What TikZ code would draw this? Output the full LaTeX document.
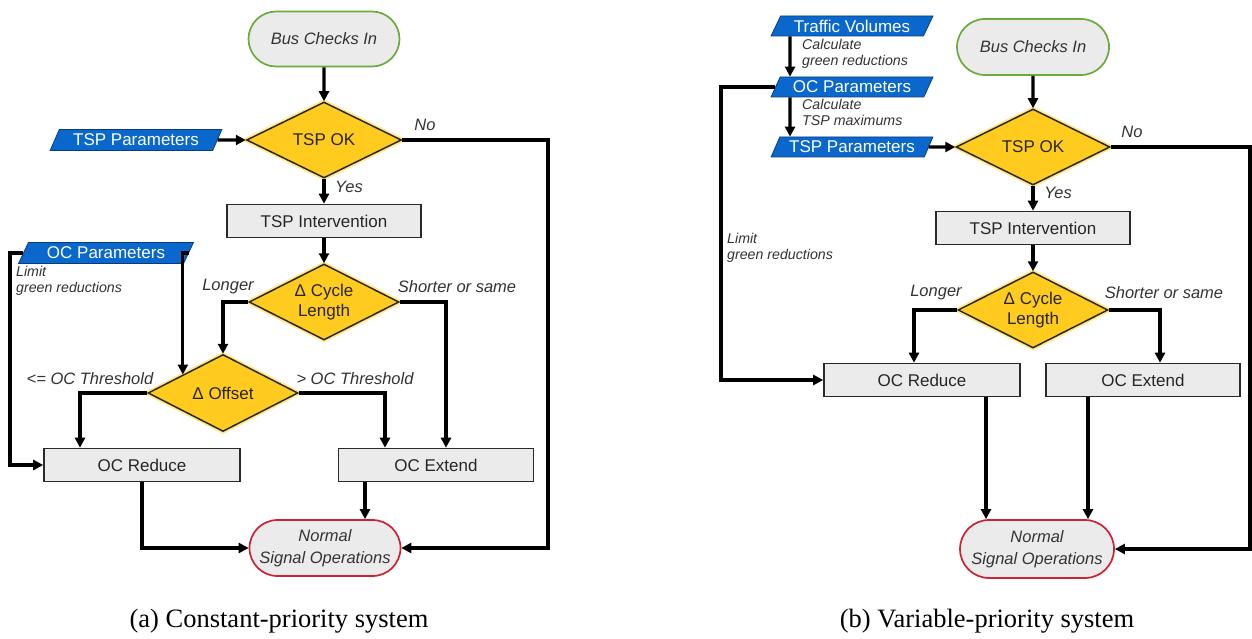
\documentclass[tikz,border=0pt]{standalone}
\usepackage{fontspec}
\setmainfont{Liberation Serif}
\setsansfont{Liberation Sans}
\usetikzlibrary{shapes.geometric,shapes.misc,arrows.meta,calc}
\definecolor{boxgray}{HTML}{EBEBEB}
\definecolor{edgedark}{HTML}{2A2A2A}
\definecolor{decyellow}{HTML}{FFCB1E}
\definecolor{glowyellow}{HTML}{FFE98A}
\definecolor{datablue}{HTML}{0A68CC}
\definecolor{datadark}{HTML}{0B3C7A}
\definecolor{startgreen}{HTML}{6BAA3C}
\definecolor{endred}{HTML}{CC2233}
\definecolor{labelgray}{HTML}{333333}
\tikzset{
  arr/.style={draw=black, line width=3.2pt, -{Triangle[length=10pt,width=10pt]}},
  proc/.style={rectangle, fill=boxgray, draw=edgedark, line width=1.6pt,
    minimum width=194pt, minimum height=33pt, inner sep=1pt,
    font=\sffamily\fontsize{17}{19}\selectfont, text=black!85},
  dec/.style={diamond, aspect=2, fill=decyellow, draw=edgedark, line width=1.5pt,
    preaction={draw=glowyellow, line width=5pt},
    minimum width=152pt, minimum height=76pt, inner sep=1pt, align=center,
    font=\sffamily\fontsize{17}{19.5}\selectfont, text=black!85},
  term/.style={rounded rectangle, fill=boxgray, line width=1.7pt,
    minimum width=155pt, minimum height=55pt, inner sep=2pt, align=center,
    font=\sffamily\itshape\fontsize{16.5}{22}\selectfont, text=black!80},
  databox/.style={trapezium, trapezium left angle=58, trapezium right angle=122,
    trapezium stretches=true, fill=datablue, draw=datadark, line width=0.8pt,
    minimum width=172pt, minimum height=21pt, inner sep=0pt,
    font=\sffamily\fontsize{17}{19}\selectfont, text=white},
  lbl/.style={font=\sffamily\itshape\fontsize{16.5}{18}\selectfont, text=labelgray, inner sep=0pt},
  smlbl/.style={font=\sffamily\itshape\fontsize{14.2}{16.5}\selectfont, text=labelgray,
    inner sep=0pt, align=left, anchor=north west},
  captext/.style={font=\rmfamily\fontsize{26.5}{30}\selectfont, inner sep=0pt}
}
\begin{document}
\begin{tikzpicture}[x=1pt,y=-1pt]
\useasboundingbox[fill=white] (0,0) rectangle (1252,639);

% ---------------- (a) constant-priority system ----------------
\node[term, draw=startgreen] (busa) at (324,39) {Bus Checks In};
\node[dec, minimum width=155pt] (tspoka) at (324,140) {TSP OK};
\node[databox] (tsppa) at (136,140) {TSP Parameters};
\node[proc] (inta) at (324,221) {TSP Intervention};
\node[dec, minimum width=150pt] (cyca) at (324,302) {Δ Cycle\\Length};
\node[databox, minimum width=175pt] (ocpa) at (106,253) {OC Parameters};
\node[dec, minimum width=150pt, minimum height=77pt] (offa) at (223,393) {Δ Offset};
\node[proc, minimum width=196pt] (reda) at (142,465) {OC Reduce};
\node[proc, minimum width=195pt] (exta) at (436,465) {OC Extend};
\node[term, draw=endred, minimum height=56pt] (norma) at (325,548) {Normal\\Signal Operations};

\coordinate (rta) at (548,0);
\coordinate (lfa) at (10,0);

\draw[arr] (busa) -- (tspoka);
\draw[arr] (tsppa.east) -- (tspoka.west);
\draw[arr] (tspoka.east) -- (tspoka.east -| rta) |- (norma.east);
\draw[arr] (tspoka.south) -- (inta.north);
\draw[arr] (inta.south) -- (cyca.north);
\draw[arr] (cyca.west) -| (offa.north);
\draw[arr] (cyca.east) -| ([xshift=10pt]exta.north);
\draw[arr] (offa.east) -| ([xshift=-51pt]exta.north);
\draw[arr] (offa.west) -| ([xshift=-62pt]reda.north);
\draw[arr] (ocpa.west) -- (ocpa.west -| lfa) |- (reda.west);
\draw[arr] (ocpa.east) -| ($(offa.north)!0.53!(offa.west)$);
\draw[arr] (reda.south) |- (norma.west);
\draw[arr] ([xshift=-71pt]exta.south) -- ([xshift=-71pt]exta.south |- norma.north);

\node[lbl] (noa) at (425,125) {No};
\node[lbl] (yesa) at (349,187) {Yes};
\node[lbl] (longa) at (228,287) {Longer};
\node[lbl] (shorta) at (457,287) {Shorter or same};
\node[lbl] (lea) at (90,379) {<= OC Threshold};
\node[lbl] (gta) at (355,379) {> OC Threshold};
\node[smlbl] (lima) at (16,266) {Limit\\green reductions};
\node[captext] (capa) at (279,621) {(a) Constant-priority system};

% ---------------- (b) variable-priority system ----------------
\node[databox, minimum width=162pt, minimum height=20pt] (tvb) at (852,26) {Traffic Volumes};
\node[databox, minimum width=162pt, minimum height=20pt] (ocpb) at (852,87) {OC Parameters};
\node[databox, minimum width=162pt, minimum height=20pt] (tsppb) at (852,147) {TSP Parameters};
\node[term, draw=startgreen, minimum width=156pt, minimum height=56pt] (busb) at (1033,47) {Bus Checks In};
\node[dec, minimum width=154pt] (tspokb) at (1033,147) {TSP OK};
\node[proc] (intb) at (1033,228) {TSP Intervention};
\node[dec, minimum width=150pt] (cycb) at (1033,310) {Δ Cycle\\Length};
\node[proc, minimum width=196pt] (redb) at (922,380) {OC Reduce};
\node[proc] (extb) at (1143,380) {OC Extend};
\node[term, draw=endred, minimum width=158pt, minimum height=58pt] (normb) at (1037,549) {Normal\\Signal Operations};

\coordinate (rtb) at (1250,0);
\coordinate (lfb) at (721,0);

\draw[arr] ([xshift=-62pt]tvb.south) -- ([xshift=-62pt]ocpb.north);
\draw[arr] ([xshift=-62pt]ocpb.south) -- ([xshift=-62pt]tsppb.north);
\draw[arr] (tsppb.east) -- (tspokb.west);
\draw[arr] (busb) -- (tspokb);
\draw[arr] (tspokb.east) -- (tspokb.east -| rtb) |- (normb.east);
\draw[arr] (tspokb.south) -- (intb.north);
\draw[arr] (intb.south) -- (cycb.north);
\draw[arr] (cycb.west) -| ([xshift=-8pt]redb.north);
\draw[arr] (cycb.east) -| ([xshift=17pt]extb.north);
\draw[arr] (ocpb.west) -- (ocpb.west -| lfb) |- (redb.west);
\draw[arr] ([xshift=64pt]redb.south) -- ([xshift=64pt]redb.south |- normb.north);
\draw[arr] ([xshift=-55pt]extb.south) -- ([xshift=-55pt]extb.south |- normb.north);

\node[smlbl] (calcb1) at (802,39) {Calculate\\green reductions};
\node[smlbl] (calcb2) at (802,99) {Calculate\\TSP maximums};
\node[lbl] (nob) at (1132,132) {No};
\node[lbl] (yesb) at (1058,193) {Yes};
\node[lbl] (longb) at (936,293) {Longer};
\node[lbl] (shortb) at (1164,293) {Shorter or same};
\node[smlbl] (limb) at (727,233) {Limit\\green reductions};
\node[captext] (capb) at (987,621) {(b) Variable-priority system};
\end{tikzpicture}
\end{document}
